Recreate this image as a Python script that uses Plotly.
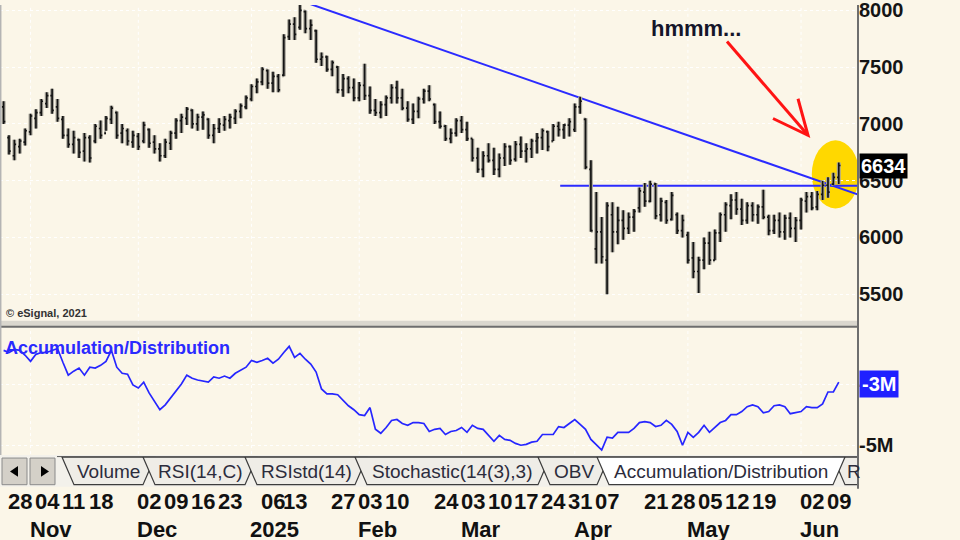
import plotly.graph_objects as go
import pandas as pd

# ---------------- data ----------------
HOLIDAYS = ["2024-11-28", "2024-12-25", "2025-01-01", "2025-01-09", "2025-01-20",
            "2025-02-17", "2025-04-18", "2025-05-26"]
dates = [d.strftime("%Y-%m-%d") for d in
         pd.bdate_range("2024-10-25", "2025-06-11", freq="C", holidays=HOLIDAYS)]

opens = [7150, 6880, 6720, 6800, 6840, 6930, 7050, 7100, 7180, 7250,
         7150, 7040, 6900, 6820, 6860, 6760, 6880, 6850, 6960, 6920,
         7040, 7100, 6920, 6940, 6840, 6890, 6850, 6950, 6840, 6780,
         6720, 6830, 6920, 7030, 7050, 7120, 7000, 7060, 7040, 6900,
         6960, 6990, 7030, 7050, 7110, 7150, 7220, 7330, 7370, 7470,
         7360, 7420, 7430, 7770, 7880, 7850, 7990, 7840, 7820, 7570,
         7590, 7480, 7500, 7300, 7400, 7320, 7230, 7340, 7250, 7120,
         7100, 7170, 7230, 7320, 7230, 7140, 7040, 7110, 7220, 7290,
         7170, 7020, 6980, 6870, 6920, 7030, 6950, 6870, 6700, 6600,
         6720, 6680, 6600, 6700, 6800, 6690, 6820, 6760, 6780, 6850,
         6880, 6930, 6850, 6980, 6950, 6990, 6950, 7150, 7040, 6600,
         5900, 6050, 5800, 6200, 6050, 6150, 6080, 6180, 6260, 6400,
         6320, 6470, 6200, 6310, 6160, 6200, 6060, 6020, 5820, 5700,
         5800, 5950, 5800, 6040, 6200, 6280, 6330, 6250, 6150, 6280,
         6200, 6270, 6180, 6060, 6150, 6050, 6170, 6080, 6150, 6320,
         6360, 6270, 6380, 6460, 6470, 6530]
highs = [7200, 6900, 6860, 6870, 6960, 7090, 7130, 7220, 7280, 7310,
         7220, 7070, 6960, 6940, 6870, 6920, 6900, 7000, 7030, 7070,
         7160, 7110, 7000, 6960, 6940, 6920, 7020, 6960, 6900, 6830,
         6870, 6940, 7050, 7090, 7150, 7130, 7090, 7110, 7050, 7000,
         7050, 7070, 7090, 7130, 7180, 7250, 7350, 7400, 7500, 7480,
         7460, 7440, 7790, 7920, 7940, 8050, 8000, 7920, 7830, 7630,
         7600, 7560, 7510, 7440, 7420, 7400, 7370, 7530, 7330, 7220,
         7200, 7250, 7350, 7380, 7310, 7200, 7180, 7240, 7310, 7340,
         7180, 7110, 6990, 6960, 7050, 7070, 7020, 6870, 6790, 6760,
         6830, 6790, 6740, 6830, 6810, 6850, 6890, 6830, 6870, 6920,
         6960, 6940, 7000, 7020, 7000, 7050, 7180, 7240, 7050, 6680,
         6400, 6180, 6310, 6310, 6270, 6240, 6220, 6250, 6440, 6480,
         6500, 6480, 6350, 6330, 6400, 6220, 6200, 6050, 5960, 5830,
         6000, 6050, 6070, 6220, 6310, 6380, 6400, 6340, 6310, 6310,
         6290, 6420, 6200, 6200, 6220, 6200, 6220, 6180, 6350, 6400,
         6400, 6410, 6500, 6530, 6570, 6660]
lows = [7000, 6730, 6680, 6740, 6810, 6900, 6960, 7070, 7140, 7090,
        7020, 6870, 6790, 6740, 6700, 6670, 6660, 6830, 6870, 6940,
        7000, 6870, 6830, 6810, 6790, 6770, 6830, 6790, 6740, 6670,
        6700, 6770, 6870, 6920, 6990, 6960, 6940, 6950, 6870, 6830,
        6920, 6940, 6960, 7000, 7050, 7130, 7200, 7270, 7340, 7310,
        7280, 7280, 7420, 7740, 7740, 7830, 7800, 7740, 7540, 7510,
        7460, 7420, 7270, 7240, 7270, 7200, 7200, 7210, 7090, 7070,
        7050, 7070, 7180, 7180, 7120, 7020, 7000, 7050, 7180, 7200,
        7000, 6960, 6850, 6830, 6890, 6920, 6850, 6670, 6570, 6530,
        6660, 6550, 6530, 6630, 6640, 6670, 6700, 6660, 6700, 6740,
        6770, 6760, 6850, 6890, 6870, 6890, 6930, 7090, 6600, 6050,
        5770, 5770, 5500, 5870, 5940, 5980, 6030, 6050, 6220, 6270,
        6310, 6160, 6140, 6120, 6150, 6030, 6000, 5770, 5640, 5510,
        5720, 5760, 5800, 5960, 6050, 6160, 6200, 6110, 6120, 6140,
        6120, 6160, 6020, 6030, 6000, 5980, 6000, 5960, 6070, 6220,
        6240, 6240, 6330, 6350, 6460, 6470]
closes = [7020, 6760, 6820, 6850, 6940, 7070, 7100, 7200, 7250, 7120,
          7050, 6900, 6820, 6880, 6750, 6880, 6700, 6980, 6900, 7050,
          7140, 6900, 6960, 6850, 6900, 6800, 6990, 6830, 6780, 6720,
          6840, 6920, 7030, 7060, 7130, 7000, 7060, 7080, 6900, 6960,
          7000, 7040, 7060, 7110, 7160, 7230, 7330, 7370, 7480, 7360,
          7420, 7300, 7760, 7880, 7790, 8000, 7840, 7870, 7570, 7590,
          7480, 7540, 7300, 7400, 7320, 7230, 7340, 7250, 7120, 7100,
          7170, 7230, 7320, 7230, 7140, 7040, 7110, 7220, 7290, 7220,
          7020, 6980, 6870, 6920, 7030, 6950, 6870, 6700, 6600, 6720,
          6680, 6600, 6700, 6800, 6680, 6820, 6760, 6780, 6850, 6880,
          6940, 6800, 6980, 6950, 6990, 7020, 7150, 7200, 6620, 6060,
          6050, 5830, 6280, 6050, 6150, 6080, 6180, 6230, 6410, 6320,
          6470, 6190, 6320, 6150, 6370, 6060, 6150, 5800, 5700, 5800,
          5950, 5800, 6040, 6200, 6290, 6330, 6250, 6150, 6280, 6200,
          6270, 6180, 6060, 6150, 6050, 6170, 6080, 6150, 6330, 6360,
          6260, 6380, 6460, 6400, 6530, 6634]
# Accumulation/Distribution, millions
ad_millions = [-1.90, -1.97, -1.87, -1.90, -2.06, -2.26, -2.03, -1.97, -1.97, -1.90,
               -1.84, -2.29, -2.71, -2.58, -2.48, -2.71, -2.45, -2.48, -2.39, -2.26,
               -1.90, -2.45, -2.65, -2.68, -3.03, -3.13, -2.94, -3.29, -3.58, -3.84,
               -3.68, -3.45, -3.26, -3.00, -2.71, -2.81, -2.87, -2.90, -2.94, -2.77,
               -2.81, -2.74, -2.81, -2.65, -2.55, -2.45, -2.23, -2.29, -2.23, -2.16,
               -2.32, -2.19, -1.97, -1.77, -2.13, -2.00, -2.19, -2.35, -2.61, -3.16,
               -3.32, -3.32, -3.35, -3.52, -3.71, -3.84, -4.00, -4.03, -3.77, -4.48,
               -4.61, -4.42, -4.19, -4.16, -4.29, -4.35, -4.26, -4.26, -4.29, -4.55,
               -4.48, -4.45, -4.65, -4.55, -4.52, -4.42, -4.58, -4.35, -4.45, -4.48,
               -4.68, -4.87, -4.68, -4.81, -4.84, -4.94, -5.00, -4.97, -4.90, -4.87,
               -4.65, -4.65, -4.65, -4.39, -4.42, -4.29, -4.16, -4.32, -4.48, -4.81,
               -5.00, -5.16, -4.74, -4.77, -4.58, -4.58, -4.58, -4.45, -4.26, -4.23,
               -4.26, -4.39, -4.35, -4.19, -4.32, -4.55, -5.00, -4.58, -4.74, -4.58,
               -4.35, -4.58, -4.42, -4.26, -4.19, -4.00, -4.00, -3.90, -3.74, -3.68,
               -3.74, -3.94, -3.90, -3.71, -3.68, -3.74, -3.97, -3.94, -3.90, -3.74,
               -3.77, -3.77, -3.65, -3.26, -3.26, -2.94]

price_ticks = [5500, 6000, 6500, 7000, 7500, 8000]
ad_ticks = [-5, -3]
ad_tick_text = ["-5M", "-3M"]
day_labels = ["2024-10-28", "2024-11-04", "2024-11-11", "2024-11-18",
              "2024-12-02", "2024-12-09", "2024-12-16", "2024-12-23",
              "2025-01-06", "2025-01-13", "2025-01-27", "2025-02-03", "2025-02-10",
              "2025-02-24", "2025-03-03", "2025-03-10", "2025-03-17", "2025-03-24",
              "2025-03-31", "2025-04-07", "2025-04-21", "2025-04-28", "2025-05-05",
              "2025-05-12", "2025-05-19", "2025-06-02", "2025-06-09"]
month_starts = ["2024-11-01", "2024-12-02", "2025-01-02", "2025-02-03",
                "2025-03-03", "2025-04-01", "2025-05-01", "2025-06-02"]
month_names = ["Nov", "Dec", "2025", "Feb", "Mar", "Apr", "May", "Jun"]
tab_names = ["Volume", "RSI(14,C)", "RSIstd(14)", "Stochastic(14(3),3)", "OBV",
             "Accumulation/Distribution", "R"]
active_tab = "Accumulation/Distribution"

# drawn study lines (category position, price)
trend_x = [55, 158.6]
trend_y = [8088, 6378]
support_x = [103.3, 158.6]
support_y = [6455, 6455]
note_text = "hmmm..."

# ---------------- layout helpers ----------------
W, H = 960, 540
def px(x): return x / W
def py(y): return 1 - y / H
def path(pts, close=False):
    s = "M " + " L ".join(f"{px(a):.5f},{py(b):.5f}" for a, b in pts)
    return s + (" Z" if close else "")

BG = "#FBF6E8"
FONT = "Liberation Sans, Arial, sans-serif"
PLOT_R = 858
XR = [-0.67, 158.57]

fig = go.Figure()
# soft grey halo under the bars (eSignal style), then the black bars
fig.add_trace(go.Ohlc(x=dates, open=opens, high=highs, low=lows, close=closes,
                      increasing=dict(line=dict(color="#a9a69c", width=4)),
                      decreasing=dict(line=dict(color="#a9a69c", width=4)),
                      tickwidth=0.34, xaxis="x", yaxis="y", showlegend=False,
                      hoverinfo="skip"))
fig.add_trace(go.Ohlc(x=dates, open=opens, high=highs, low=lows, close=closes,
                      increasing=dict(line=dict(color="#141414", width=1.7)),
                      decreasing=dict(line=dict(color="#141414", width=1.7)),
                      tickwidth=0.32, xaxis="x", yaxis="y", showlegend=False,
                      hoverinfo="skip"))
fig.add_trace(go.Scatter(x=dates, y=ad_millions, mode="lines",
                         line=dict(color="#2626ff", width=1.7),
                         xaxis="x2", yaxis="y2", showlegend=False, hoverinfo="skip"))

shapes = []
# month grid (dotted, faint)
for d in month_starts:
    for yr in ("y domain", "y2 domain"):
        shapes.append(dict(type="line", xref="x" if yr == "y domain" else "x2", yref=yr,
                           x0=d, x1=d, y0=0, y1=1, layer="below",
                           line=dict(color="rgba(255,255,255,0.95)", width=1, dash="dot")))
# yellow highlight
shapes.append(dict(type="circle", xref="x", yref="y", x0=150.0, x1=158.8, y0=6256, y1=6856,
                   fillcolor="#FFD800", line=dict(width=0), layer="below"))
# trend lines
shapes.append(dict(type="line", xref="x", yref="y", x0=trend_x[0], x1=trend_x[1],
                   y0=trend_y[0], y1=trend_y[1], line=dict(color="#2b2bff", width=2),
                   layer="between"))
shapes.append(dict(type="line", xref="x", yref="y", x0=support_x[0], x1=support_x[1],
                   y0=support_y[0], y1=support_y[1], line=dict(color="#2b2bff", width=2),
                   layer="between"))
# red arrow
shapes.append(dict(type="path", xref="paper", yref="paper",
                   path=path([(727, 37), (808, 132)]), line=dict(color="#ff1414", width=3)))
shapes.append(dict(type="path", xref="paper", yref="paper",
                   path=path([(773, 115), (808, 132), (798, 95)]),
                   line=dict(color="#ff1414", width=3)))
# frame pieces
shapes.append(dict(type="rect", xref="paper", yref="paper", x0=0, x1=px(PLOT_R),
                   y0=py(326), y1=py(320), fillcolor="#DAD7CE", line=dict(width=0)))
shapes.append(dict(type="line", xref="paper", yref="paper", x0=0, x1=px(PLOT_R),
                   y0=py(326), y1=py(326), line=dict(color="#6e6e6e", width=2)))
shapes.append(dict(type="line", xref="paper", yref="paper", x0=px(0.7), x1=px(0.7),
                   y0=py(456), y1=1, line=dict(color="#b4b4b4", width=1.5)))
# tab strip
shapes.append(dict(type="rect", xref="paper", yref="paper", x0=0, x1=px(PLOT_R),
                   y0=py(488), y1=py(456), fillcolor="#F3F1EB", line=dict(width=0)))
for x0 in (2, 30):
    shapes.append(dict(type="rect", xref="paper", yref="paper", x0=px(x0), x1=px(x0 + 25),
                       y0=py(486), y1=py(459), fillcolor="#D4D0C8",
                       line=dict(color="#8a8a8a", width=1)))
shapes.append(dict(type="path", xref="paper", yref="paper",
                   path=path([(18, 467), (10, 472.5), (18, 478)], True),
                   fillcolor="#000", line=dict(width=0)))
shapes.append(dict(type="path", xref="paper", yref="paper",
                   path=path([(41, 467), (49, 472.5), (41, 478)], True),
                   fillcolor="#000", line=dict(width=0)))
tab_left = [62, 143, 245, 355, 538, 597, 833]
S = 12
TT, TB = 458, 486
tab_text = []
order = [i for i in range(len(tab_names)) if tab_names[i] != active_tab] + \
        [tab_names.index(active_tab)]
for i in order:
    L = tab_left[i]
    if i + 1 < len(tab_left):
        R = tab_left[i + 1]
        pts = [(L, TT), (R + S, TT), (R, TB), (L + S, TB)]
        cx = (L + S + R) / 2
    else:
        pts = [(L, TT), (PLOT_R, TT), (PLOT_R, TB), (L + S, TB)]
        cx = None
    act = tab_names[i] == active_tab
    shapes.append(dict(type="path", xref="paper", yref="paper", path=path(pts, True),
                       fillcolor="#FFFFFF" if act else "#EFEDE7",
                       line=dict(color="#3c3c3c", width=1.2)))
    tab_text.append((tab_names[i], cx, L + S))
shapes.append(dict(type="line", xref="paper", yref="paper", x0=px(57), x1=px(PLOT_R),
                   y0=py(457.5), y1=py(457.5), line=dict(color="#5a5a5a", width=1)))
# right axis line
shapes.append(dict(type="line", xref="paper", yref="paper", x0=px(PLOT_R), x1=px(PLOT_R),
                   y0=py(490), y1=1, line=dict(color="#6e6e6e", width=2)))

ann = []
for name, cx, lx in tab_text:
    if cx is not None:
        ann.append(dict(xref="paper", yref="paper", x=px(cx), y=py(473), text=name,
                        showarrow=False, xanchor="center", yanchor="middle",
                        font=dict(family=FONT, size=19, color="#2c2c3c")))
    else:
        ann.append(dict(xref="paper", yref="paper", x=px(lx), y=py(473), text=name,
                        showarrow=False, xanchor="left", yanchor="middle",
                        font=dict(family=FONT, size=19, color="#2c2c3c")))
for d in day_labels:
    ann.append(dict(xref="x2", yref="paper", x=d, y=py(503), text=d[-2:], showarrow=False,
                    xanchor="left", yanchor="middle", xshift=-2, borderpad=0,
                    font=dict(family=FONT, size=22, color="#111", weight="bold")))
for d, m in zip(month_starts, month_names):
    ann.append(dict(xref="x2", yref="paper", x=d, y=py(531), text=m, showarrow=False,
                    xanchor="left", yanchor="middle", xshift=-2, borderpad=0,
                    font=dict(family=FONT, size=22, color="#111", weight="bold")))
ann.append(dict(xref="paper", yref="y", x=px(859), y=closes[-1], text=str(closes[-1]),
                showarrow=False, xanchor="left", yanchor="middle", bgcolor="#000",
                borderpad=1, font=dict(family=FONT, size=20, color="#fff", weight="bold")))
ann.append(dict(xref="paper", yref="y2", x=px(859), y=-3, text="-3M",
                showarrow=False, xanchor="left", yanchor="middle", bgcolor="#2020ff",
                borderpad=2, font=dict(family=FONT, size=20, color="#fff", weight="bold")))
ann.append(dict(xref="paper", yref="paper", x=px(3), y=py(347),
                text="Accumulation/Distribution", showarrow=False, xanchor="left",
                yanchor="middle",
                font=dict(family=FONT, size=18, color="#2a2aff", weight="bold")))
ann.append(dict(xref="paper", yref="paper", x=px(4), y=py(312), text="© eSignal, 2021",
                showarrow=False, xanchor="left", yanchor="middle",
                font=dict(family=FONT, size=11, color="#333", weight="bold")))
ann.append(dict(xref="paper", yref="paper", x=px(696), y=py(24), text=note_text,
                showarrow=False, xanchor="center", yanchor="middle",
                font=dict(family=FONT, size=22, color="#15152a", weight="bold")))

axis_common = dict(showgrid=False, zeroline=False, fixedrange=True)
fig.update_layout(
    width=W, height=H, margin=dict(l=0, r=0, t=0, b=0),
    paper_bgcolor=BG, plot_bgcolor=BG, showlegend=False,
    xaxis=dict(domain=[0, px(PLOT_R)], type="category", range=XR, anchor="y",
               showticklabels=False, rangeslider=dict(visible=False), **axis_common),
    yaxis=dict(domain=[py(322), 1], range=[5248, 8048], side="right", anchor="x",
               tickvals=price_ticks, ticks="", showgrid=True, ticklabeloverflow="allow",
               gridcolor="rgba(255,255,255,0.95)", griddash="dot", gridwidth=1,
               zeroline=False, fixedrange=True,
               tickfont=dict(family=FONT, size=20, color="#151515", weight="bold")),
    xaxis2=dict(domain=[0, px(PLOT_R)], type="category", range=XR, anchor="y2",
                matches="x", showticklabels=False, **axis_common),
    yaxis2=dict(domain=[py(455), py(328)], range=[-5.29, -1.194], side="right",
                anchor="x2", tickvals=ad_ticks, ticktext=ad_tick_text, ticks="",
                showgrid=True, gridcolor="rgba(255,255,255,0.95)", griddash="dot",
                zeroline=False, fixedrange=True, ticklabeloverflow="allow",
                tickfont=dict(family=FONT, size=20, color="#151515", weight="bold")),
    shapes=shapes, annotations=ann,
)
fig.write_html("out.html", config={"displayModeBar": False},
               post_script="document.body.style.margin='0';"
                           "document.body.style.overflow='hidden';"
                           "document.body.style.background='" + BG + "';")
